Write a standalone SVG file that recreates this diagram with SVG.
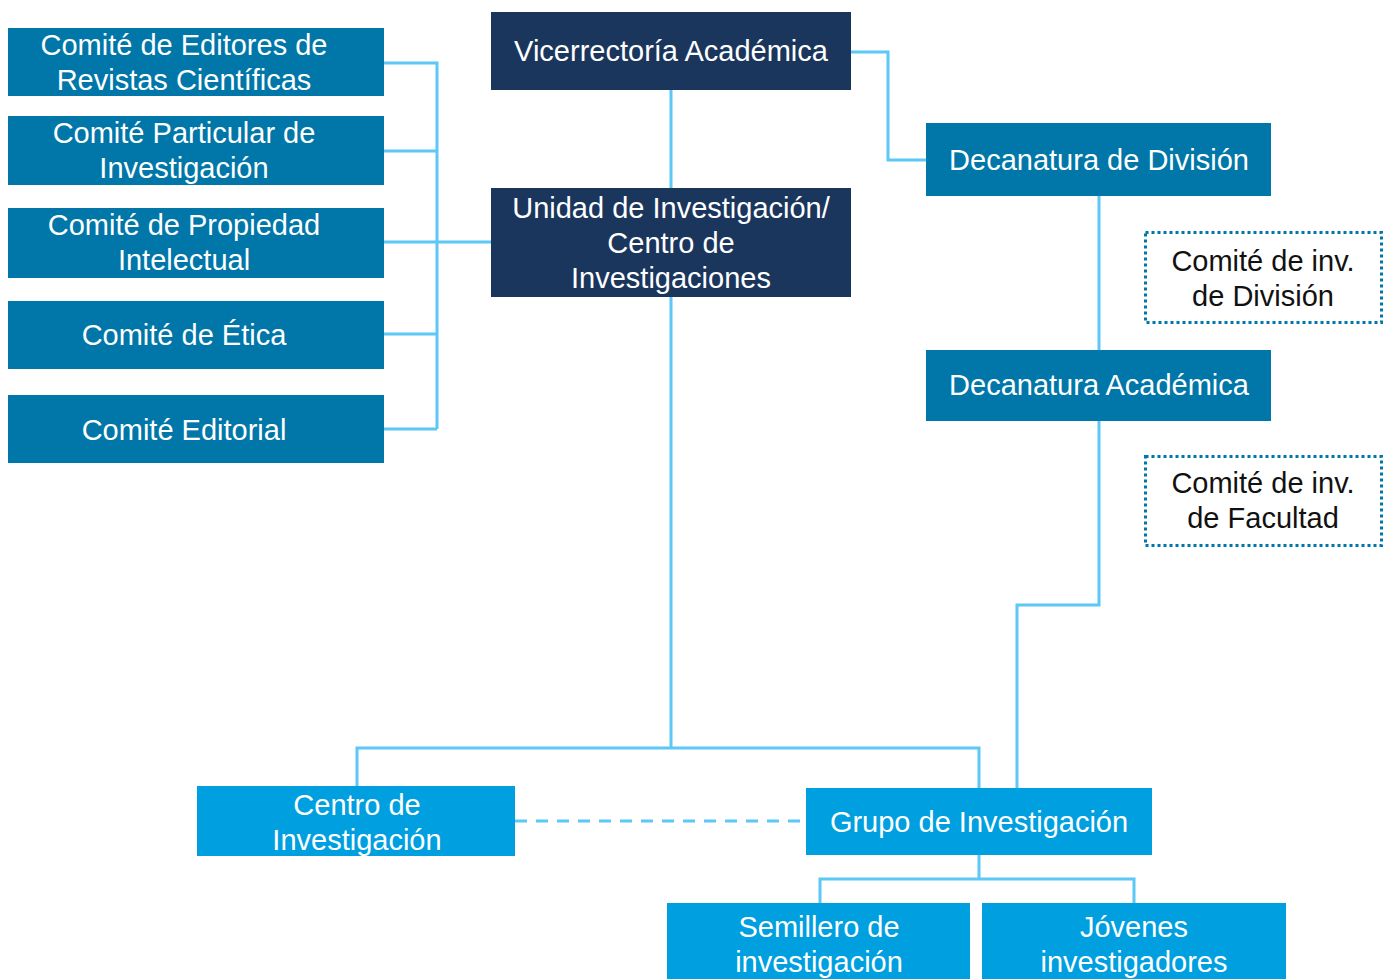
<svg xmlns="http://www.w3.org/2000/svg" width="1390" height="979" viewBox="0 0 1390 979">
<style>
.t{font-family:"Liberation Sans",Arial,sans-serif;font-size:29px;fill:#fff;text-anchor:middle}
.k{fill:#111}
.navy{fill:#1B365D}
.mid{fill:#0077A8}
.lt{fill:#009FE0}
.dot{fill:#fff;stroke:#0077A8;stroke-width:3;stroke-dasharray:3 3}
.c{fill:none;stroke:#5BC8F5;stroke-width:3}
</style>
<rect width="1390" height="979" fill="#fff"/>
<g id="connectors">
<path class="c" d="M384 63H437V429M384 151H437M384 242H491M384 334H437M384 429H437"/>
<path class="c" d="M671 90V188M671 297V748M357 787V748H979V788"/>
<path class="c" d="M851 52H888V160H926"/>
<path class="c" d="M1099 196V350M1099 421V605H1017V788"/>
<path class="c" d="M979 855V879M820 903V879H1134V903"/>
<path class="c" d="M515 821H806" stroke-dasharray="12 9"/>
</g>
<g id="n1"><rect class="mid" x="8" y="28" width="376" height="68"/><text class="t" x="184" y="55">Comité de Editores de</text><text class="t" x="184" y="90">Revistas Científicas</text></g>
<g id="n2"><rect class="mid" x="8" y="116" width="376" height="69"/><text class="t" x="184" y="143">Comité Particular de</text><text class="t" x="184" y="178">Investigación</text></g>
<g id="n3"><rect class="mid" x="8" y="208" width="376" height="70"/><text class="t" x="184" y="235">Comité de Propiedad</text><text class="t" x="184" y="270">Intelectual</text></g>
<g id="n4"><rect class="mid" x="8" y="301" width="376" height="68"/><text class="t" x="184" y="345">Comité de Ética</text></g>
<g id="n5"><rect class="mid" x="8" y="395" width="376" height="68"/><text class="t" x="184" y="440">Comité Editorial</text></g>
<g id="vice"><rect class="navy" x="491" y="12" width="360" height="78"/><text class="t" x="671" y="61">Vicerrectoría Académica</text></g>
<g id="unidad"><rect class="navy" x="491" y="188" width="360" height="109"/><text class="t" x="671" y="218">Unidad de Investigación/</text><text class="t" x="671" y="253">Centro de</text><text class="t" x="671" y="288">Investigaciones</text></g>
<g id="decdiv"><rect class="mid" x="926" y="123" width="345" height="73"/><text class="t" x="1099" y="170">Decanatura de División</text></g>
<g id="comdiv"><rect class="dot" x="1145.5" y="232.5" width="236" height="90"/><text class="t k" x="1263" y="271">Comité de inv.</text><text class="t k" x="1263" y="306">de División</text></g>
<g id="decacad"><rect class="mid" x="926" y="350" width="345" height="71"/><text class="t" x="1099" y="395">Decanatura Académica</text></g>
<g id="comfac"><rect class="dot" x="1145.5" y="456.5" width="236" height="89"/><text class="t k" x="1263" y="493">Comité de inv.</text><text class="t k" x="1263" y="528">de Facultad</text></g>
<g id="centro"><rect class="lt" x="197" y="786" width="318" height="70"/><text class="t" x="357" y="815">Centro de</text><text class="t" x="357" y="850">Investigación</text></g>
<g id="grupo"><rect class="lt" x="806" y="788" width="346" height="67"/><text class="t" x="979" y="832">Grupo de Investigación</text></g>
<g id="semillero"><rect class="lt" x="667" y="903" width="303" height="80"/><text class="t" x="819" y="937">Semillero de</text><text class="t" x="819" y="972">investigación</text></g>
<g id="jovenes"><rect class="lt" x="982" y="903" width="304" height="80"/><text class="t" x="1134" y="937">Jóvenes</text><text class="t" x="1134" y="972">investigadores</text></g>
</svg>
